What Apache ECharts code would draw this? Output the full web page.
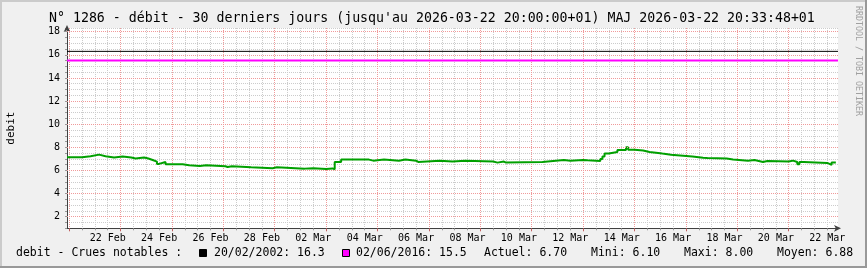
<!DOCTYPE html>
<html><head><meta charset="utf-8">
<script src="https://cdn.jsdelivr.net/npm/echarts@6/dist/echarts.min.js"></script>
<style>html,body{margin:0;padding:0;background:#f0f0f0}#c{width:867px;height:268px}</style>
</head><body><div id="c"></div>
<script>
// ---- time axis definition (2-hour steps, 30 days) ----
const AXIS_START = Date.UTC(2026, 1, 20, 22, 0);
const STEP_HOURS = 2;
const N_STEPS = 360;
const MONTHS = ['Jan','Feb','Mar','Apr','May','Jun','Jul','Aug','Sep','Oct','Nov','Dec'];

// ---- data (step series, value holds until next time) ----
const times = [
'02-20 22:00','02-21 12:00','02-21 20:00','02-22 04:00','02-22 10:00','02-22 18:00',
'02-23 02:00','02-23 10:00','02-23 14:00','02-23 22:00','02-24 02:00','02-24 06:00',
'02-24 10:00','02-24 12:00','02-24 18:00','02-25 10:00','02-25 16:00','02-26 02:00',
'02-26 08:00','02-27 02:00','02-27 04:00','02-27 08:00','02-28 02:00','02-28 22:00',
'03-01 02:00','03-02 04:00','03-02 12:00','03-03 00:00','03-03 06:00','03-03 08:00',
'03-03 14:00','03-04 16:00','03-04 20:00','03-05 06:00','03-05 20:00','03-06 02:00',
'03-06 12:00','03-06 14:00','03-07 10:00','03-07 22:00','03-08 10:00','03-09 12:00',
'03-09 16:00','03-09 22:00','03-10 00:00','03-11 10:00','03-12 06:00','03-12 12:00',
'03-13 00:00','03-13 04:00','03-13 16:00','03-13 18:00','03-13 20:00','03-14 00:00',
'03-14 08:00','03-14 16:00','03-14 18:00','03-15 00:00','03-15 08:00','03-15 14:00',
'03-16 02:00','03-16 10:00','03-17 06:00','03-17 16:00','03-17 20:00','03-18 14:00',
'03-18 20:00','03-19 10:00','03-19 16:00','03-20 00:00','03-20 04:00','03-21 00:00',
'03-21 04:00','03-21 08:00','03-21 10:00','03-21 14:00','03-22 12:00','03-22 16:00',
'03-22 20:00'];
const debit = [
7.15,7.23,7.37,7.23,7.12,7.20,
7.12,7.03,7.12,7.03,6.91,6.77,
6.57,6.74,6.54,6.45,6.39,6.45,
6.37,6.30,6.37,6.28,6.20,6.28,
6.16,6.20,6.13,6.18,6.10,6.74,
6.94,6.85,6.94,6.85,6.94,6.85,
6.74,6.85,6.77,6.85,6.77,6.68,
6.77,6.68,6.74,6.91,6.85,6.91,
6.88,6.82,7.00,7.20,7.46,7.60,
7.78,8.00,7.80,7.72,7.60,7.46,
7.37,7.20,7.10,7.07,7.03,6.94,
6.85,6.90,6.74,6.82,6.77,6.85,
6.74,6.54,6.74,6.65,6.48,6.70,
6.70];

const hruleValues = [16.3, 15.5];
const hruleLabels = ['20/02/2002: 16.3', '02/06/2016: 15.5'];
const hruleColors = ['#000000', '#ff00ff'];
const yMajorTicks = [2, 4, 6, 8, 10, 12, 14, 16, 18];
const legendStats = ['Actuel: 6.70', 'Mini: 6.10', 'Maxi: 8.00', 'Moyen: 6.88'];

const TITLE = "N° 1286 - débit - 30 derniers jours (jusqu'au 2026-03-22 20:00:00+01) MAJ 2026-03-22 20:33:48+01";
const FONT = "'DejaVu Sans Mono', monospace";

// ---- categories ----
const pad = n => (n < 10 ? '0' : '') + n;
const cats = [], catDate = [];
for (let i = 0; i <= N_STEPS; i++) {
  const d = new Date(AXIS_START + i * STEP_HOURS * 3600e3);
  catDate.push(d);
  cats.push(pad(d.getUTCMonth() + 1) + '-' + pad(d.getUTCDate()) + ' ' + pad(d.getUTCHours()) + ':00');
}
const isMajor = i => catDate[i].getUTCHours() === 0 && catDate[i].getUTCDate() % 2 === 1;
const isMinor = i => catDate[i].getUTCHours() % 12 === 0 && !isMajor(i);
const isLabel = i => catDate[i].getUTCHours() === 12 && catDate[i].getUTCDate() % 2 === 0;

const lineData = times.map((t, k) => [cats.indexOf(t), debit[k]]);

const chart = echarts.init(document.getElementById('c'), null, {renderer: 'canvas'});
const PINK = '#f09a9a';
const GRAY = '#cccccc';

const graphics = [
  {type: 'rect', shape: {x: 0, y: 0, width: 867, height: 2}, style: {fill: '#cbcbcb'}, silent: true},
  {type: 'rect', shape: {x: 0, y: 0, width: 2, height: 268}, style: {fill: '#cbcbcb'}, silent: true},
  {type: 'rect', shape: {x: 0, y: 266, width: 867, height: 2}, style: {fill: '#999999'}, silent: true},
  {type: 'rect', shape: {x: 865, y: 0, width: 2, height: 268}, style: {fill: '#999999'}, silent: true},
  {type: 'text', x: 49, y: 19, style: {text: TITLE, font: '13.25px ' + FONT, fill: '#000', verticalAlign: 'middle'}},
  {type: 'text', x: 858, y: 6, rotation: -Math.PI / 2, style: {text: 'RRDTOOL / TOBI OETIKER', font: '8.3px ' + FONT, fill: '#a0a0a0', verticalAlign: 'middle'}},
  {type: 'text', x: 16, y: 253, style: {text: 'debit - Crues notables :', font: '11.5px ' + FONT, fill: '#000', verticalAlign: 'middle'}},
  {type: 'rect', shape: {x: 199.5, y: 249.5, width: 7, height: 7}, style: {fill: hruleColors[0], stroke: '#000', lineWidth: 1}},
  {type: 'text', x: 214, y: 253, style: {text: hruleLabels[0], font: '11.5px ' + FONT, fill: '#000', verticalAlign: 'middle'}},
  {type: 'rect', shape: {x: 342.5, y: 249.5, width: 7, height: 7}, style: {fill: hruleColors[1], stroke: '#000', lineWidth: 1}},
  {type: 'text', x: 356, y: 253, style: {text: hruleLabels[1], font: '11.5px ' + FONT, fill: '#000', verticalAlign: 'middle'}}
];
const statX = [484, 591, 684, 777];
legendStats.forEach((s, k) => graphics.push({type: 'text', x: statX[k], y: 253, style: {text: s, font: '11.5px ' + FONT, fill: '#000', verticalAlign: 'middle'}}));

chart.setOption({
  animation: false,
  backgroundColor: '#f0f0f0',
  grid: {left: 67, right: 29, top: 28, bottom: 39.7, show: true, backgroundColor: '#ffffff', borderWidth: 0,
         containLabel: false, outerBoundsMode: 'none'},
  xAxis: [{
    type: 'category', data: cats, boundaryGap: false,
    axisLine: {show: true, lineStyle: {color: '#404040', width: 1}, symbol: ['none', 'arrow'], symbolSize: [5, 7], symbolOffset: [0, 3]},
    axisTick: {show: true, interval: i => isMinor(i), length: 2, lineStyle: {color: '#999'}},
    axisLabel: {
      interval: i => isLabel(i), margin: 5, color: '#000', fontFamily: FONT, fontSize: 10,
      formatter: v => { const m = +v.slice(0, 2), d = v.slice(3, 5); return d + ' ' + MONTHS[m - 1]; }
    },
    splitLine: {show: true, interval: i => isMinor(i), lineStyle: {color: GRAY, type: [1, 1], width: 1}}
  }, {
    type: 'category', data: cats, boundaryGap: false, position: 'bottom',
    axisLine: {show: false},
    axisTick: {show: true, interval: i => isMajor(i), length: 3, lineStyle: {color: '#c06060'}},
    axisLabel: {show: false},
    splitLine: {show: true, interval: i => isMajor(i), lineStyle: {color: PINK, type: [1, 1], width: 1}}
  }],
  yAxis: {
    type: 'value', min: 1, max: 18.32, interval: 0.5,
    name: 'debit', nameLocation: 'middle', nameGap: 50, nameRotate: 90,
    nameTextStyle: {fontFamily: FONT, fontSize: 11, color: '#000'},
    axisLine: {show: true, lineStyle: {color: '#404040', width: 1}, symbol: ['none', 'arrow'], symbolSize: [5, 7], symbolOffset: [0, 3]},
    axisTick: {show: true, length: 2, lineStyle: {color: '#999'}},
    axisLabel: {margin: 7, color: '#000', fontFamily: FONT, fontSize: 10,
      formatter: v => (yMajorTicks.indexOf(v) >= 0 ? String(v) : '')},
    splitLine: {show: true, lineStyle: {color: GRAY, type: [1, 1], width: 1}}
  },
  series: [
    {type: 'line', name: 'gridY', data: [], z: 1, silent: true, markLine: {
      silent: true, symbol: 'none', animation: false, label: {show: false}, emphasis: {disabled: true},
      lineStyle: {color: PINK, type: [1, 1], width: 1},
      data: yMajorTicks.map(v => ({yAxis: v}))}},
    {type: 'line', name: hruleLabels[0], data: [[0, hruleValues[0]], [N_STEPS, hruleValues[0]]], showSymbol: false, z: 3,
      lineStyle: {color: hruleColors[0], width: 1}, silent: true},
    {type: 'line', name: hruleLabels[1], data: [[0, hruleValues[1]], [N_STEPS, hruleValues[1]]], showSymbol: false, z: 3,
      lineStyle: {color: hruleColors[1], width: 2}, silent: true},
    {type: 'line', name: 'debit', data: lineData, step: 'end', showSymbol: false, z: 4,
      lineStyle: {color: '#00a000', width: 2}, silent: true}
  ],
  graphic: graphics
});
</script></body></html>
